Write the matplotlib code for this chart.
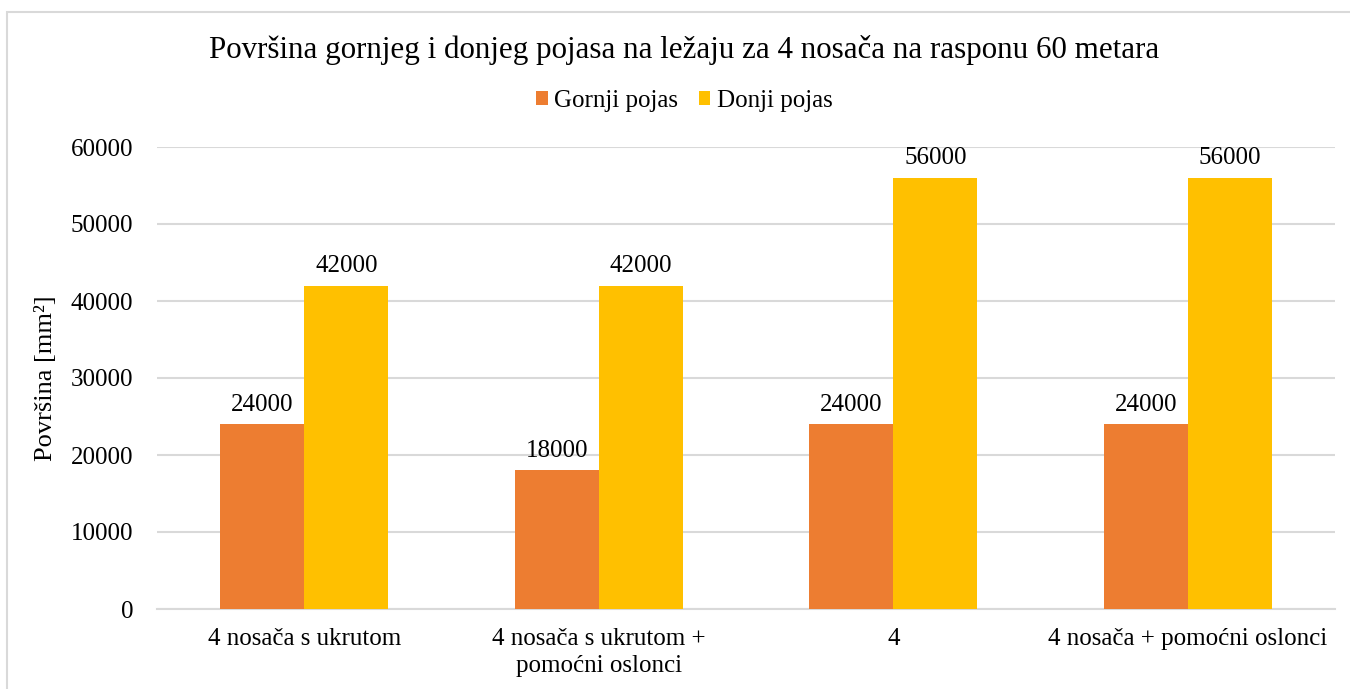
import numpy as np
import matplotlib
matplotlib.use('Agg')
import matplotlib.pyplot as plt
from matplotlib.patches import Rectangle

# Podaci: povrsina pojasa [mm2] po varijanti nosaca
categories = ['4 nosača s ukrutom', '4 nosača s ukrutom +\npomoćni oslonci', '4', '4 nosača + pomoćni oslonci']
gornji_pojas = [24000, 18000, 24000, 24000]
donji_pojas = [42000, 42000, 56000, 56000]

plt.rcParams['font.family'] = ['Liberation Serif', 'DejaVu Serif']

fig = plt.figure(figsize=(13.5, 6.89), dpi=100)
ax = fig.add_axes([157 / 1350, 1 - 609 / 689, (1335 - 157) / 1350, (609 - 147) / 689])

# okvir oko cijelog grafa
fig.patches.append(Rectangle((7 / 1350, -0.05), 1.1, 1 - 12 / 689 + 0.05,
                             transform=fig.transFigure, fill=False,
                             edgecolor='#D9D9D9', linewidth=1.5))

x = np.arange(len(categories))
w = 0.286
b1 = ax.bar(x - w / 2, gornji_pojas, w, color='#ED7D31', label='Gornji pojas', zorder=3)
b2 = ax.bar(x + w / 2, donji_pojas, w, color='#FFC000', label='Donji pojas', zorder=3)

for bars in (b1, b2):
    for rect in bars:
        h = rect.get_height()
        ax.annotate(f'{h:.0f}', (rect.get_x() + rect.get_width() / 2, h),
                    xytext=(0, 6), textcoords='offset points',
                    ha='center', va='bottom', fontsize=18, color='#000000')

ax.set_xlim(-0.5, len(categories) - 0.5)
ax.set_ylim(0, 60000)
ax.set_yticks(np.arange(0, 60001, 10000))
ax.set_xticks(x)
ax.set_xticklabels(categories, fontsize=18, linespacing=1.25)
ax.tick_params(axis='y', labelsize=18, length=0, pad=17)
ax.tick_params(axis='x', length=0, pad=14)
ax.grid(axis='y', color='#D9D9D9', linewidth=1.5, zorder=0)
for s in ['top', 'right', 'left']:
    ax.spines[s].set_visible(False)
ax.spines['bottom'].set_color('#D9D9D9')
ax.spines['bottom'].set_linewidth(1.5)

ax.set_ylabel('Površina [mm²]', fontsize=19, labelpad=10)

fig.text(0.507, 1 - 50 / 689, 'Površina gornjeg i donjeg pojasa na ležaju za 4 nosača na rasponu 60 metara',
         ha='center', va='center', fontsize=22.3)
fig.legend(handles=[b1, b2], loc='center', bbox_to_anchor=(0.507, 1 - 101 / 689),
           ncol=2, frameon=False, fontsize=18, handlelength=0.45, handleheight=0.45,
           columnspacing=0.85, handletextpad=0.25)

fig.savefig('out.png', dpi=100)
